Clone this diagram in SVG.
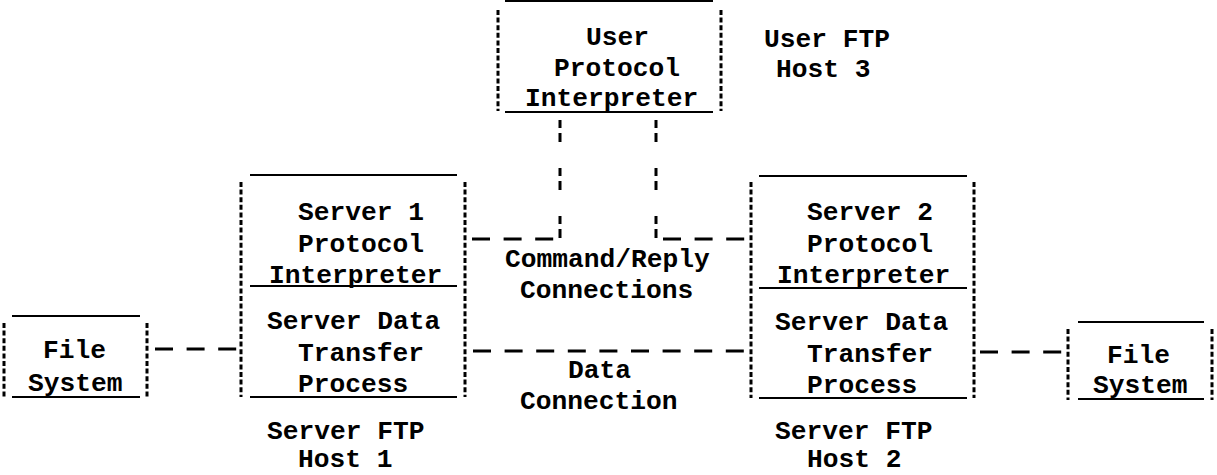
<svg xmlns="http://www.w3.org/2000/svg" width="1217" height="475" viewBox="0 0 1217 475">
<style>
  text { font-family: "Liberation Mono", "Courier New", monospace; font-size: 26.25px; font-weight: bold; fill: #000; }
  .h { stroke: #000; stroke-width: 2.2; fill: none; }
  .v { stroke: #000; stroke-width: 3; fill: none; stroke-dasharray: 5 2.6; }
  .c { stroke: #000; stroke-width: 2.8; fill: none; stroke-dasharray: 18 13.6; }
  .cv { stroke: #000; stroke-width: 3; fill: none; stroke-dasharray: 8 5 9 26; }
</style>
<rect width="1217" height="475" fill="#fff"/>

<g id="user-pi">
  <line class="h" x1="505" y1="1" x2="713" y2="1"/>
  <line class="v" x1="498" y1="10" x2="498" y2="111"/>
  <line class="v" x1="721" y1="10" x2="721" y2="111"/>
  <line class="h" x1="505" y1="112" x2="713" y2="112"/>
  <text x="586" y="45">User</text>
  <text x="554" y="76">Protocol</text>
  <text x="525" y="106">Interpreter</text>
</g>

<g id="user-host-label">
  <text x="764" y="47">User FTP</text>
  <text x="776" y="77">Host 3</text>
</g>

<g id="server1">
  <line class="h" x1="250" y1="175" x2="457" y2="175"/>
  <line class="v" x1="241" y1="182" x2="241" y2="397"/>
  <line class="v" x1="465" y1="182" x2="465" y2="397"/>
  <line class="h" x1="250" y1="286" x2="457" y2="286"/>
  <line class="h" x1="250" y1="397" x2="457" y2="397"/>
  <text x="298" y="220">Server 1</text>
  <text x="298" y="252">Protocol</text>
  <text x="269" y="283">Interpreter</text>
  <text x="267" y="329">Server Data</text>
  <text x="298" y="361">Transfer</text>
  <text x="298" y="392">Process</text>
</g>
<g id="server1-host-label">
  <text x="267" y="439">Server FTP</text>
  <text x="298" y="467">Host 1</text>
</g>

<g id="server2">
  <line class="h" x1="759" y1="176" x2="967" y2="176"/>
  <line class="v" x1="751" y1="182" x2="751" y2="398"/>
  <line class="v" x1="974" y1="182" x2="974" y2="398"/>
  <line class="h" x1="759" y1="288" x2="967" y2="288"/>
  <line class="h" x1="759" y1="398" x2="967" y2="398"/>
  <text x="807" y="220">Server 2</text>
  <text x="807" y="252">Protocol</text>
  <text x="777" y="283">Interpreter</text>
  <text x="775" y="330">Server Data</text>
  <text x="807" y="362">Transfer</text>
  <text x="807" y="393">Process</text>
</g>
<g id="server2-host-label">
  <text x="775" y="439">Server FTP</text>
  <text x="807" y="467">Host 2</text>
</g>

<g id="filesystem1">
  <line class="h" x1="12" y1="316" x2="140" y2="316"/>
  <line class="v" x1="4" y1="323" x2="4" y2="397"/>
  <line class="v" x1="147" y1="323" x2="147" y2="397"/>
  <line class="h" x1="12" y1="397" x2="140" y2="397"/>
  <text x="43" y="358">File</text>
  <text x="28" y="391">System</text>
</g>

<g id="filesystem2">
  <line class="h" x1="1078" y1="322" x2="1204" y2="322"/>
  <line class="v" x1="1068" y1="329" x2="1068" y2="400"/>
  <line class="v" x1="1212" y1="329" x2="1212" y2="400"/>
  <line class="h" x1="1078" y1="399" x2="1204" y2="399"/>
  <text x="1107" y="363">File</text>
  <text x="1093" y="393">System</text>
</g>

<g id="connectors">
  <line class="c" x1="155" y1="349" x2="239" y2="349"/>
  <line class="c" x1="473" y1="351" x2="749" y2="351"/>
  <line class="c" x1="980" y1="352" x2="1064" y2="352"/>
  <line class="c" x1="472" y1="239" x2="557" y2="239"/>
  <line class="cv" x1="560" y1="120" x2="560" y2="239"/>
  <line class="cv" x1="656" y1="120" x2="656" y2="239"/>
  <line class="c" x1="663" y1="239" x2="748" y2="239"/>
</g>

<g id="connector-labels">
  <text x="505" y="267">Command/Reply</text>
  <text x="520" y="298">Connections</text>
  <text x="568" y="378">Data</text>
  <text x="520" y="409">Connection</text>
</g>
</svg>
